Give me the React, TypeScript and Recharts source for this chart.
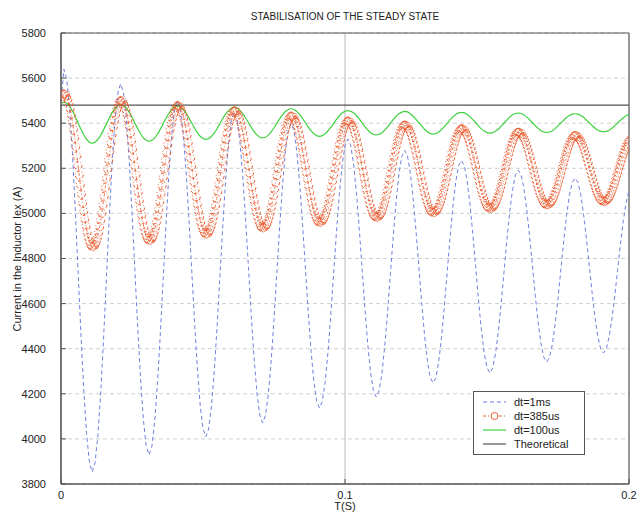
import React from 'react';
import { LineChart, Line, XAxis, YAxis, CartesianGrid, ReferenceArea } from 'recharts';

// ---- sample steps ----
const STEP_BLUE = 0.001;   // dt = 1 ms
const STEP_RED = 0.0004;   // dt ≈ 385 us (read spacing of markers)
const STEP_GREEN = 0.001;  // dt = 100 us trace, read every 1 ms

// ---- axis ticks ----
const xTicks = [0, 0.1, 0.2];
const yTicks = [3800, 4000, 4200, 4400, 4600, 4800, 5000, 5200, 5400, 5600, 5800];

// ---- series names ----
const seriesNames = ['dt=1ms', 'dt=385us', 'dt=100us', 'Theoretical'];

// ---- dt = 1 ms (blue dashed) ----
const blueCurrent = [
  5480,
  5640, 5596, 5469, 5272, 5023, 4747, 4470, 4221, 4024, 3897,
  3853, 3895, 4018, 4208, 4448, 4714, 4980, 5220, 5411, 5533,
  5575, 5535, 5418, 5236, 5006, 4752, 4498, 4268, 4086, 3969,
  3929, 3967, 4079, 4253, 4472, 4715, 4957, 5176, 5350, 5462,
  5500, 5464, 5358, 5193, 4985, 4755, 4524, 4316, 4151, 4046,
  4009, 4044, 4147, 4306, 4507, 4730, 4952, 5153, 5312, 5415,
  5450, 5416, 5318, 5166, 4974, 4761, 4547, 4355, 4203, 4105,
  4071, 4104, 4198, 4345, 4530, 4736, 4941, 5126, 5273, 5368,
  5400, 5369, 5279, 5140, 4964, 4769, 4573, 4398, 4258, 4168,
  4137, 4166, 4251, 4383, 4549, 4734, 4918, 5084, 5216, 5301,
  5330, 5302, 5221, 5094, 4935, 4758, 4581, 4422, 4295, 4214,
  4186, 4213, 4291, 4412, 4564, 4733, 4902, 5054, 5175, 5253,
  5280, 5255, 5181, 5067, 4923, 4764, 4605, 4461, 4347, 4273,
  4248, 4272, 4342, 4451, 4589, 4742, 4894, 5032, 5141, 5211,
  5235, 5212, 5145, 5041, 4909, 4764, 4618, 4486, 4382, 4315,
  4292, 4314, 4378, 4478, 4603, 4742, 4881, 5006, 5106, 5170,
  5192, 5171, 5111, 5017, 4898, 4767, 4635, 4516, 4422, 4362,
  4341, 4361, 4419, 4509, 4623, 4749, 4875, 4989, 5079, 5137,
  5157, 5138, 5083, 4997, 4889, 4769, 4649, 4541, 4455, 4400,
  4381, 4399, 4452, 4533, 4636, 4751, 4865, 4968, 5049, 5102,
];

// ---- dt = 385 us (red circles) ----
const redCurrent = [
  5506, 5519, 5527,
  5530, 5527, 5519, 5506, 5488, 5465, 5438, 5407, 5373, 5335, 5296, 5255, 5212, 5170, 5128, 5086, 5047, 5009, 4975, 4944, 4917, 4894, 4876, 4863, 4855,
  4852, 4855, 4862, 4875, 4892, 4914, 4940, 4970, 5002, 5038, 5076, 5115, 5156, 5196, 5237, 5276, 5314, 5350, 5383, 5412, 5438, 5460, 5477, 5490, 5497,
  5500, 5498, 5490, 5478, 5462, 5441, 5416, 5388, 5356, 5322, 5286, 5248, 5210, 5171, 5132, 5094, 5058, 5024, 4992, 4964, 4939, 4918, 4902, 4890, 4882,
  4880, 4882, 4889, 4901, 4917, 4937, 4961, 4988, 5019, 5052, 5087, 5123, 5160, 5198, 5235, 5271, 5306, 5339, 5370, 5397, 5421, 5441, 5457, 5469, 5476,
  5478, 5476, 5469, 5458, 5443, 5424, 5401, 5375, 5346, 5314, 5281, 5246, 5211, 5175, 5140, 5105, 5072, 5040, 5011, 4985, 4962, 4943, 4928, 4917, 4910,
  4908, 4910, 4917, 4927, 4942, 4960, 4982, 5007, 5035, 5065, 5097, 5130, 5164, 5199, 5233, 5266, 5298, 5328, 5356, 5381, 5403, 5421, 5436, 5446, 5453,
  5455, 5453, 5447, 5437, 5423, 5405, 5385, 5361, 5334, 5306, 5275, 5244, 5211, 5179, 5146, 5115, 5084, 5056, 5029, 5006, 4985, 4967, 4953, 4943, 4937,
  4935, 4937, 4943, 4952, 4966, 4983, 5002, 5025, 5050, 5078, 5107, 5137, 5168, 5199, 5230, 5260, 5289, 5317, 5342, 5365, 5385, 5401, 5415, 5424, 5430,
  5432, 5430, 5425, 5415, 5403, 5387, 5368, 5346, 5322, 5296, 5269, 5240, 5211, 5181, 5152, 5123, 5096, 5070, 5046, 5024, 5005, 4989, 4977, 4967, 4962,
  4960, 4962, 4967, 4976, 4988, 5003, 5021, 5042, 5064, 5089, 5116, 5143, 5171, 5199, 5227, 5255, 5281, 5306, 5328, 5349, 5367, 5382, 5394, 5403, 5408,
  5410, 5408, 5403, 5395, 5384, 5369, 5352, 5332, 5311, 5287, 5262, 5236, 5209, 5183, 5156, 5130, 5105, 5081, 5060, 5040, 5023, 5008, 4997, 4989, 4984,
  4982, 4984, 4988, 4996, 5007, 5021, 5038, 5056, 5077, 5100, 5124, 5149, 5174, 5200, 5225, 5250, 5274, 5297, 5318, 5336, 5353, 5367, 5378, 5386, 5390,
  5392, 5390, 5386, 5378, 5368, 5355, 5339, 5321, 5302, 5280, 5258, 5234, 5210, 5185, 5161, 5137, 5115, 5093, 5074, 5056, 5040, 5027, 5017, 5009, 5005,
  5003, 5005, 5009, 5016, 5026, 5039, 5053, 5070, 5089, 5110, 5132, 5154, 5177, 5201, 5224, 5246, 5268, 5289, 5308, 5325, 5339, 5352, 5362, 5369, 5373,
  5375, 5374, 5370, 5363, 5353, 5341, 5327, 5311, 5293, 5274, 5253, 5232, 5210, 5187, 5165, 5144, 5123, 5104, 5086, 5070, 5056, 5044, 5034, 5028, 5024,
  5022, 5023, 5027, 5034, 5043, 5054, 5068, 5083, 5100, 5119, 5139, 5159, 5180, 5202, 5223, 5243, 5263, 5282, 5299, 5314, 5328, 5339, 5348, 5355, 5359,
  5360, 5359, 5355, 5349, 5340, 5329, 5316, 5302, 5285, 5268, 5249, 5229, 5209, 5189, 5169, 5149, 5130, 5113, 5096, 5082, 5069, 5058, 5049, 5043, 5039,
  5038, 5039, 5043, 5049, 5057, 5067, 5080, 5094, 5109, 5126, 5144, 5163, 5182, 5201, 5220, 5239, 5257, 5274, 5289, 5303, 5316, 5326, 5334, 5340, 5344,
  5345, 5344, 5340, 5335, 5327, 5317, 5305, 5292, 5277, 5261, 5244, 5226, 5208, 5189, 5171, 5154, 5136, 5120, 5105, 5092, 5080, 5070, 5063, 5057, 5054,
  5052, 5053, 5056, 5062, 5069, 5079, 5090, 5103, 5117, 5132, 5149, 5166, 5183, 5201, 5218, 5235, 5252, 5267, 5281, 5294, 5305, 5315, 5322,
];

// ---- dt = 100 us (green line) ----
const greenCurrent = [
  5490,
  5492, 5488, 5475, 5455, 5430, 5402, 5374, 5349, 5329, 5316,
  5312, 5316, 5328, 5347, 5371, 5397, 5423, 5447, 5466, 5478,
  5482, 5478, 5467, 5449, 5426, 5401, 5376, 5353, 5335, 5324,
  5320, 5324, 5335, 5352, 5374, 5398, 5422, 5444, 5461, 5472,
  5476, 5472, 5462, 5446, 5425, 5402, 5379, 5358, 5342, 5332,
  5328, 5332, 5342, 5357, 5377, 5399, 5421, 5441, 5456, 5466,
  5470, 5467, 5457, 5442, 5423, 5403, 5382, 5363, 5348, 5338,
  5335, 5338, 5347, 5362, 5380, 5400, 5419, 5437, 5452, 5461,
  5464, 5461, 5452, 5439, 5422, 5403, 5384, 5367, 5354, 5345,
  5342, 5345, 5353, 5366, 5381, 5399, 5417, 5433, 5445, 5453,
  5456, 5453, 5446, 5434, 5419, 5402, 5385, 5370, 5358, 5351,
  5348, 5351, 5358, 5369, 5384, 5400, 5416, 5431, 5442, 5449,
  5452, 5450, 5442, 5431, 5417, 5402, 5387, 5373, 5362, 5354,
  5352, 5354, 5361, 5372, 5385, 5400, 5415, 5428, 5439, 5446,
  5448, 5446, 5439, 5429, 5416, 5402, 5388, 5375, 5365, 5358,
  5356, 5358, 5365, 5374, 5387, 5401, 5414, 5427, 5437, 5443,
  5445, 5443, 5437, 5427, 5415, 5402, 5389, 5377, 5367, 5361,
  5359, 5361, 5367, 5376, 5388, 5401, 5413, 5425, 5434, 5440,
  5442, 5440, 5434, 5426, 5414, 5402, 5390, 5379, 5370, 5364,
  5362, 5364, 5369, 5378, 5389, 5401, 5413, 5424, 5433, 5438,
];

// ---- theoretical steady state ----
const theoreticalTimes = [0, 0.2];
const theoreticalCurrent = [5480, 5480];

const COLORS = {
  blue: '#6f7fe0',
  red: '#ec5a2c',
  green: '#3fd23f',
  theo: '#555555',
};

const blueData = blueCurrent.map((v, i) => ({ t: i * STEP_BLUE, v }));
const redData = redCurrent.map((v, i) => ({ t: i * STEP_RED, v }));
const greenData = greenCurrent.map((v, i) => ({ t: i * STEP_GREEN, v }));
const theoData = theoreticalTimes.map((t, i) => ({ t, v: theoreticalCurrent[i] }));

const FONT = '"Liberation Sans", Arial, sans-serif';
const noLabel = () => <g />;

function LegendBox() {
  const row = (i: number) => {
    let sym: React.ReactNode = null;
    if (i === 0) sym = <line x1={9} y1={7} x2={32} y2={7} stroke={COLORS.blue} strokeWidth={1} strokeDasharray="4 3" />;
    if (i === 1) sym = (
      <g>
        <line x1={9} y1={7} x2={32} y2={7} stroke={COLORS.red} strokeWidth={1} strokeDasharray="3 2 1 2" />
        <circle cx={20.5} cy={7} r={3.5} fill="#fff" stroke={COLORS.red} strokeWidth={1} />
      </g>
    );
    if (i === 2) sym = <line x1={9} y1={7} x2={32} y2={7} stroke={COLORS.green} strokeWidth={1.2} />;
    if (i === 3) sym = <line x1={9} y1={7} x2={32} y2={7} stroke={COLORS.theo} strokeWidth={1.2} />;
    return (
      <div key={i} style={{ display: 'flex', alignItems: 'center', height: 14 }}>
        <svg width={38} height={14} style={{ display: 'block' }}>{sym}</svg>
        <span style={{ marginLeft: 2, fontSize: 11, color: '#222', fontFamily: FONT, lineHeight: '14px' }}>{seriesNames[i]}</span>
      </div>
    );
  };
  return (
    <div style={{ position: 'absolute', left: 473, top: 391, width: 112, height: 64, boxSizing: 'border-box', border: '1px solid #555', background: '#fff', paddingTop: 3 }}>
      {[0, 1, 2, 3].map(row)}
    </div>
  );
}

export default function App() {
  return (
    <div style={{ position: 'absolute', left: 0, top: 0, width: 641, height: 518, background: '#fff' }}>
      <div style={{ position: 'absolute', left: 61, top: 11, width: 568, textAlign: 'center', fontFamily: FONT, fontSize: 10, color: '#222' }}>
        STABILISATION OF THE STEADY STATE
      </div>
      <LineChart width={641} height={518} margin={{ top: 33, right: 12, bottom: 4, left: 11 }}>
        <CartesianGrid vertical={false} stroke="#cfcfcf" strokeDasharray="4 3" />
        <CartesianGrid horizontal={false} stroke="#b8b8b8" />
        <XAxis
          type="number"
          dataKey="t"
          domain={[0, 0.2]}
          ticks={xTicks}
          allowDataOverflow
          height={30}
          tickSize={-5}
          tickMargin={12}
          tickLine={{ stroke: '#555' }}
          axisLine={{ stroke: '#555' }}
          tick={{ fontSize: 11, fill: '#222', fontFamily: FONT }}
          label={{ value: 'T(S)', position: 'insideBottom', offset: 4, fontSize: 11, fill: '#222', fontFamily: FONT }}
        />
        <XAxis
          xAxisId="top"
          orientation="top"
          type="number"
          dataKey="t"
          domain={[0, 0.2]}
          ticks={xTicks}
          allowDataOverflow
          height={0}
          tickSize={-5}
          tickLine={{ stroke: '#555' }}
          axisLine={false}
          tick={noLabel}
        />
        <YAxis
          type="number"
          domain={[3800, 5800]}
          ticks={yTicks}
          allowDataOverflow
          width={50}
          tickSize={-5}
          tickMargin={20}
          tickLine={{ stroke: '#555' }}
          axisLine={{ stroke: '#555' }}
          tick={{ fontSize: 11, fill: '#222', fontFamily: FONT }}
          label={{
            content: () => (
              <text x={18} y={259} transform="rotate(-90 18 259)" textAnchor="middle" dominantBaseline="middle" fontSize={11} fill="#222" fontFamily={FONT}>
                Current in the Inductor Iex (A)
              </text>
            ),
          }}
        />
        <YAxis
          yAxisId="right"
          orientation="right"
          type="number"
          domain={[3800, 5800]}
          ticks={yTicks}
          allowDataOverflow
          width={0}
          tickSize={-5}
          tickLine={{ stroke: '#555' }}
          axisLine={false}
          tick={noLabel}
        />
        <ReferenceArea x1={0} x2={0.2} y1={3800} y2={5800} fill="none" stroke="#555" strokeWidth={1} ifOverflow="visible" />
        <Line
          data={blueData}
          dataKey="v"
          name={seriesNames[0]}
          type="linear"
          stroke={COLORS.blue}
          strokeWidth={1}
          strokeDasharray="4 3"
          dot={false}
          isAnimationActive={false}
        />
        <Line
          data={redData}
          dataKey="v"
          name={seriesNames[1]}
          type="linear"
          stroke={COLORS.red}
          strokeWidth={0.8}
          strokeDasharray="3 2 1 2"
          dot={{ r: 4, stroke: COLORS.red, strokeWidth: 1, fill: 'none' }}
          isAnimationActive={false}
        />
        <Line
          data={greenData}
          dataKey="v"
          name={seriesNames[2]}
          type="monotone"
          stroke={COLORS.green}
          strokeWidth={1.2}
          dot={false}
          isAnimationActive={false}
        />
        <Line
          data={theoData}
          dataKey="v"
          name={seriesNames[3]}
          type="linear"
          stroke={COLORS.theo}
          strokeWidth={1.2}
          dot={false}
          isAnimationActive={false}
        />
      </LineChart>
      <LegendBox />
    </div>
  );
}
